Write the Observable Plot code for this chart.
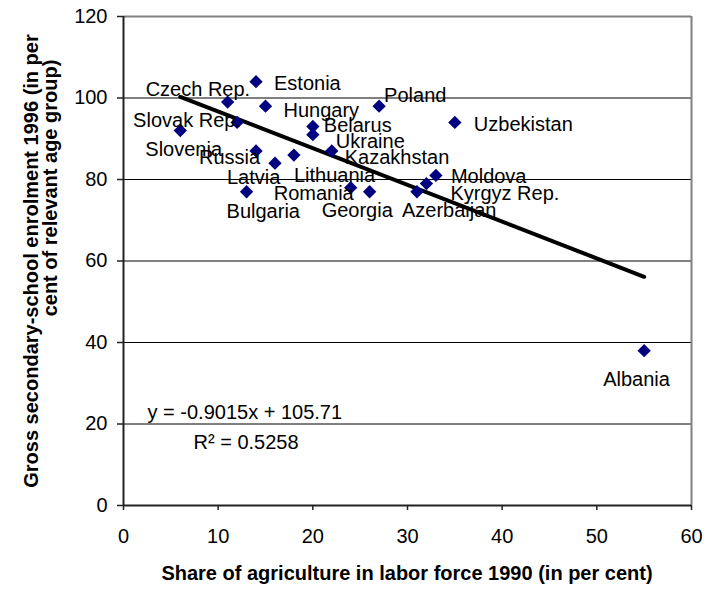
<!DOCTYPE html>
<html><head><meta charset="utf-8">
<script src="https://cdn.jsdelivr.net/npm/d3@7"></script>
<script src="https://cdn.jsdelivr.net/npm/@observablehq/plot@0.6"></script>
<style>
body{margin:0;background:#fff;}
#chart{width:704px;height:589px;}
</style>
</head><body><div id="chart"></div>
<script>
// ---- data ----
const countries = ["Czech Rep.","Estonia","Hungary","Slovak Rep.","Slovenia","Russia","Latvia","Lithuania","Romania","Bulgaria","Belarus","Ukraine","Kazakhstan","Poland","Uzbekistan","Moldova","Kyrgyz Rep.","Georgia","Azerbaijan","Albania"];
const agriShare = [11,14,15,12,6,14,16,18,24,13,20,20,22,27,35,33,32,26,31,55];
const enrolment = [99,104,98,94,92,87,84,86,78,77,93,91,87,98,94,81,79,77,77,38];
const xTicks = [0,10,20,30,40,50,60];
const yTicks = [0,20,40,60,80,100,120];
const gridValues = [20,40,60,80,100];
const trendSlope = -0.9015;
const trendIntercept = 105.71;
const equationText = "y = -0.9015x + 105.71";
const rSquaredText = "R\u00B2 = 0.5258";
const xTitle = "Share of agriculture in labor force 1990 (in per cent)";
const yTitleLines = ["Gross secondary-school enrolment 1996 (in per", "cent of relevant age group)"];

// ---- label layout: pixel offset of each label (left edge, baseline) from its marker ----
const labelOffset = {
  "Czech Rep.":[-82,-6], "Estonia":[18,8], "Hungary":[18,11], "Slovak Rep.":[-104,5],
  "Slovenia":[-35,25], "Russia":[-57,13], "Latvia":[-48,21], "Lithuania":[0,27],
  "Romania":[-77,12], "Bulgaria":[-20,26], "Belarus":[11,5], "Ukraine":[23,13],
  "Kazakhstan":[13,13], "Poland":[5,-4], "Uzbekistan":[19,9], "Moldova":[15,8],
  "Kyrgyz Rep.":[24,16], "Georgia":[-48,25], "Azerbaijan":[-15,25], "Albania":[-41,35]
};

const data = countries.map((c, i) => ({country: c, x: agriShare[i], y: enrolment[i]}));
const [x0, x1] = d3.extent(agriShare);
const trend = [x0, x1].map(x => ({x, y: trendSlope * x + trendIntercept}));

const FONT = "'Liberation Sans', Arial, sans-serif";
const W = 704, H = 589;
const mL = 123, mR = 13, mT = 16, mB = 84;

const labelMarks = data.map(d => Plot.text([d], {
  x: "x", y: "y", text: "country",
  textAnchor: "start", lineAnchor: "bottom",
  dx: labelOffset[d.country][0], dy: labelOffset[d.country][1],
  fill: "#000", fontSize: 20
}));

const chart = Plot.plot({
  width: W, height: H,
  marginLeft: mL, marginRight: mR, marginTop: mT, marginBottom: mB,
  style: {fontFamily: FONT, fontSize: "20px", color: "#000", background: "#fff", overflow: "visible"},
  x: {domain: [0, 60]},
  y: {domain: [0, 120]},
  marks: [
    Plot.ruleY(gridValues, {stroke: "#000", strokeWidth: 1}),
    Plot.ruleY([120], {stroke: "#808080", strokeWidth: 2}),
    Plot.ruleX([60], {stroke: "#808080", strokeWidth: 2}),
    Plot.axisX({ticks: xTicks, tickSize: 5, tickPadding: 18, label: null, stroke: "#222", strokeWidth: 1.5, fontSize: 20, tickFormat: d => d}),
    Plot.axisY({ticks: yTicks, tickSize: 6, tickPadding: 10, label: null, stroke: "#222", strokeWidth: 1.5, fontSize: 20, tickFormat: d => d}),
    Plot.ruleX([0], {stroke: "#222", strokeWidth: 2}),
    Plot.ruleY([0], {stroke: "#222", strokeWidth: 2}),
    Plot.line(trend, {x: "x", y: "y", stroke: "#000", strokeWidth: 4}),
    Plot.dot(data, {x: "x", y: "y", symbol: "diamond2", r: 6, fill: "#000080", stroke: "none"}),
    ...labelMarks,
    Plot.text([equationText], {frameAnchor: "bottom-left", dx: 24, dy: -87, textAnchor: "start", lineAnchor: "bottom", fontSize: 20, fill: "#000"}),
    Plot.text([rSquaredText], {frameAnchor: "bottom-left", dx: 70, dy: -57, textAnchor: "start", lineAnchor: "bottom", fontSize: 20, fill: "#000"})
  ]
});

const svg = d3.select(chart);
// x axis title
svg.append("text")
  .attr("x", mL + (W - mL - mR) / 2).attr("y", 580)
  .attr("text-anchor", "middle")
  .attr("font-family", FONT).attr("font-size", 20).attr("font-weight", "bold")
  .attr("fill", "#000")
  .text(xTitle);
// y axis title (two lines, rotated)
const yCenter = [261, 188];
const yBase = [38, 57];
yTitleLines.forEach((t, i) => {
  svg.append("text")
    .attr("transform", `translate(${yBase[i]},${yCenter[i]}) rotate(-90)`)
    .attr("text-anchor", "middle")
    .attr("font-family", FONT).attr("font-size", 20).attr("font-weight", "bold")
    .attr("fill", "#000")
    .text(t);
});

document.getElementById("chart").appendChild(chart);
</script>
</body></html>
